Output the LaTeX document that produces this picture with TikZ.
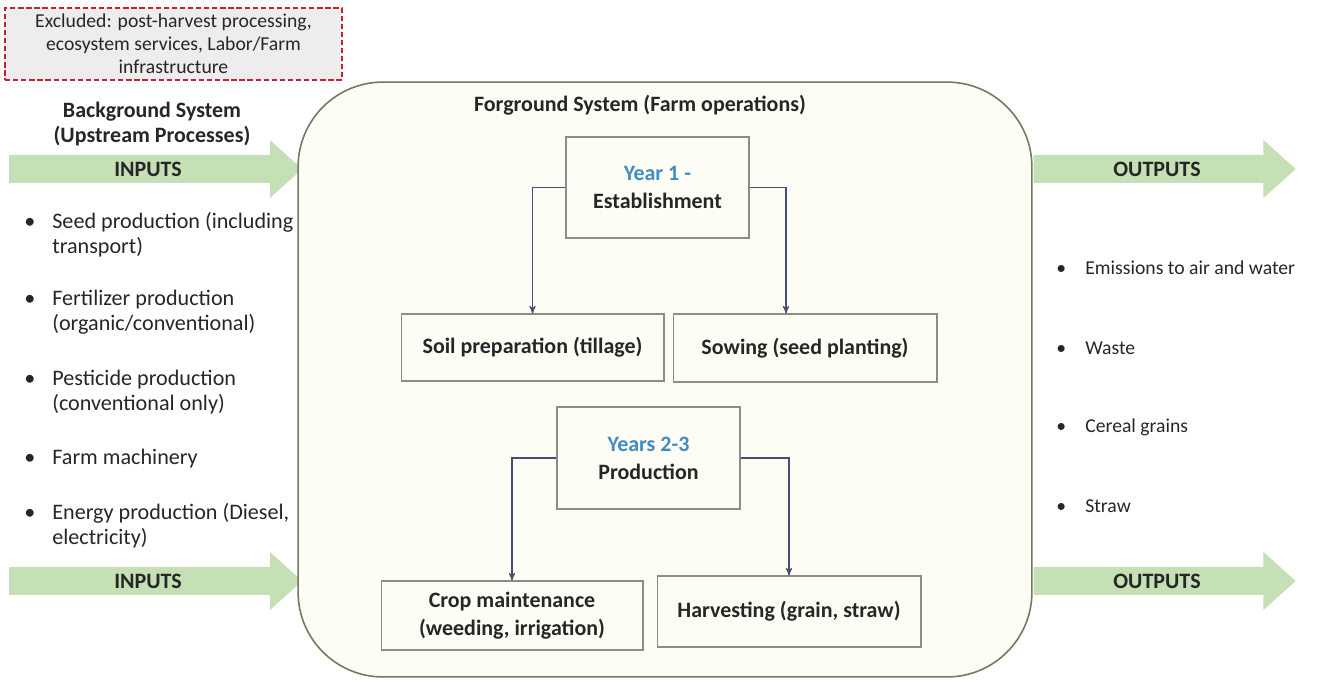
\documentclass[tikz,border=0pt]{standalone}
\usepackage{fontspec}
\setmainfont{Carlito}
\usetikzlibrary{arrows, positioning, shapes.arrows}

\definecolor{ink}{RGB}{38,38,38}
\definecolor{cream}{RGB}{254,253,245}
\definecolor{fgline}{RGB}{112,122,96}
\definecolor{stageline}{RGB}{140,140,140}
\definecolor{linkblue}{RGB}{68,78,110}
\definecolor{yearblue}{RGB}{66,140,196}
\definecolor{flowgreen}{RGB}{197,224,180}
\definecolor{exclred}{RGB}{200,32,44}
\definecolor{exclgray}{RGB}{237,237,237}

\begin{document}
\begin{tikzpicture}[
  x=0.02cm, y=-0.02cm, >=stealth',
  every node/.style={font=\fontsize{12.6}{14.2}\selectfont, text=ink, inner sep=0pt},
  stage/.style={draw=stageline, fill=cream, line width=0.6pt, align=center,
    font=\bfseries\fontsize{12.5}{15.8}\selectfont},
  flow/.style={single arrow, fill=flowgreen, single arrow head extend=0.29cm, inner ysep=0.11cm,
    single arrow tip angle=84, minimum width=1.16cm, font=\bfseries\fontsize{12.5}{14}\selectfont},
  item/.style={anchor=west, align=left},
  outitem/.style={item, font=\fontsize{11.2}{14}\selectfont},
  link/.style={->, draw=linkblue, line width=0.6pt}]

  \useasboundingbox (0,0) rectangle (1325,681);

  % flows in and out
  \node[flow, minimum height=5.86cm] (inTop) at (148,169) {INPUTS};
  \node[flow, minimum height=5.86cm] (inBot) at (148,581) {INPUTS};
  \node[flow, minimum height=5.24cm] (outTop) at (1157,169) {OUTPUTS};
  \node[flow, minimum height=5.24cm] (outBot) at (1157,581) {OUTPUTS};

  % foreground system
  \node[draw=fgline, fill=cream, line width=0.9pt, rounded corners=1.7cm,
        minimum width=14.68cm, minimum height=11.9cm] (fg) at (665,379.5) {};
  \node[font=\bfseries\fontsize{12.5}{14}\selectfont] (fgTitle) at (640,105)
    {Forground System (Farm operations)};

  \node[exclgray, fill=exclgray, draw=exclred, dash pattern=on 3pt off 1.6pt, line width=0.8pt,
        minimum width=6.74cm, minimum height=1.44cm, align=center,
        font=\fontsize{11.2}{13.2}\selectfont] (excl) at (173.5,44)
    {\textcolor{ink}{Excluded: post-harvest processing,}\\\textcolor{ink}{ecosystem services, Labor/Farm}\\\textcolor{ink}{infrastructure}};

  \node[align=center, font=\bfseries\fontsize{12.5}{14.2}\selectfont] (bgTitle) at (152,124)
    {Background System\\(Upstream Processes)};

  \node[stage, minimum width=3.66cm, minimum height=2.02cm] (yr1)  at (657.5,187.5) {\textcolor{yearblue}{Year 1 -}\\Establishment};
  \node[stage, minimum width=5.26cm, minimum height=1.34cm] (soil) at (532.5,347.5) {Soil preparation (tillage)};
  \node[stage, minimum width=5.28cm, minimum height=1.36cm] (sow)  at (805,348)     {Sowing (seed planting)};
  \node[stage, minimum width=3.66cm, minimum height=2.04cm] (yr23) at (648.5,458)   {\textcolor{yearblue}{Years 2-3}\\Production};
  \node[stage, minimum width=5.24cm, minimum height=1.38cm] (crop) at (512,615.5)   {Crop maintenance\\(weeding, irrigation)};
  \node[stage, minimum width=5.28cm, minimum height=1.42cm] (harv) at (789,611.5)   {Harvesting (grain, straw)};

  \coordinate [left=0.38cm of sow.north] (sowN);

  \draw[link] (yr1.west)  -| (soil.north);
  \draw[link] (yr1.east)  -| (sowN);
  \draw[link] (yr23.west) -| (crop.north);
  \draw[link] (yr23.east) -| (harv.north);

  % input list
  \node[item] (in1) at (24,234.5) {\makebox[0.56cm][l]{\textbullet}Seed production (including\\\hspace*{0.56cm}transport)};
  \node[item] (in2) at (24,312.5) {\makebox[0.56cm][l]{\textbullet}Fertilizer production\\\hspace*{0.56cm}(organic/conventional)};
  \node[item] (in3) at (24,392.5) {\makebox[0.56cm][l]{\textbullet}Pesticide production\\\hspace*{0.56cm}(conventional only)};
  \node[item] (in4) at (24,459)   {\makebox[0.56cm][l]{\textbullet}Farm machinery};
  \node[item] (in5) at (24,525.5) {\makebox[0.56cm][l]{\textbullet}Energy production (Diesel,\\\hspace*{0.56cm}electricity)};

  % output list
  \node[outitem] (out1) at (1056,268) {\makebox[0.58cm][l]{\textbullet}Emissions to air and water};
  \node[outitem] (out2) at (1056,348) {\makebox[0.58cm][l]{\textbullet}Waste};
  \node[outitem] (out3) at (1056,427) {\makebox[0.58cm][l]{\textbullet}Cereal grains};
  \node[outitem] (out4) at (1056,506) {\makebox[0.58cm][l]{\textbullet}Straw};

\end{tikzpicture}
\end{document}
